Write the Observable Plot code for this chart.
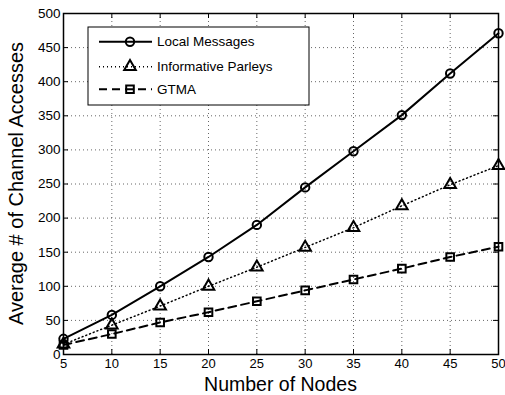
<!DOCTYPE html>
<html><head><meta charset="utf-8">
<script src="https://cdn.jsdelivr.net/npm/d3@7"></script>
<script src="https://cdn.jsdelivr.net/npm/@observablehq/plot@0.6"></script>
<style>
body{margin:0;background:#fff;}
#wrap{position:relative;width:505px;height:395px;font-family:"Liberation Sans",Arial,sans-serif;}
</style></head>
<body><div id="wrap"></div>
<script>
const nodes = [5,10,15,20,25,30,35,40,45,50];
const localMessages = [23,58,100,143,190,245,298,351,412,471];
const informativeParleys = [15,43,71,100,128,157,186,218,249,277];
const gtma = [14,30,47,62,78,94,110,126,143,158];
const xTicks = [5,10,15,20,25,30,35,40,45,50];
const yTicks = [0,50,100,150,200,250,300,350,400,450,500];
const seriesNames = ["Local Messages","Informative Parleys","GTMA"];
const xTitle = "Number of Nodes";
const yTitle = "Average # of Channel Accesses";

const styles = {
  "Local Messages": {dash: null, sw: 2, symbol: "circle", r: 4.2},
  "Informative Parleys": {dash: "1,3", sw: 1.5, symbol: "triangle", r: 4.3},
  "GTMA": {dash: "8,5", sw: 2, symbol: "square", r: 4.3}
};
const seriesVals = [localMessages, informativeParleys, gtma];
const data = seriesNames.map((name,i)=>nodes.map((x,j)=>({x, y: seriesVals[i][j], name})));

const W=505,H=395, mL=63, mR=7, mT=13, mB=41;
const tick = 5;
const FONT = '"Liberation Sans",Arial,sans-serif';
const marks = [
  Plot.gridX(xTicks, {stroke:"#000", strokeOpacity:0.6, strokeDasharray:"1,3", strokeWidth:1}),
  Plot.gridY(yTicks, {stroke:"#000", strokeOpacity:0.6, strokeDasharray:"1,3", strokeWidth:1}),
  Plot.tickX(xTicks, {x:d=>d, insetTop: H-mT-mB-tick, stroke:"#000"}),
  Plot.tickX(xTicks, {x:d=>d, insetBottom: H-mT-mB-tick, stroke:"#000"}),
  Plot.tickY(yTicks, {y:d=>d, insetRight: W-mL-mR-tick, stroke:"#000"}),
  Plot.tickY(yTicks, {y:d=>d, insetLeft: W-mL-mR-tick, stroke:"#000"}),
];
data.forEach(ser=>{
  const s = styles[ser[0].name];
  marks.push(Plot.line(ser,{x:"x",y:"y",stroke:"#000",strokeWidth:s.sw,strokeDasharray:s.dash}));
  marks.push(Plot.dot(ser,{x:"x",y:"y",symbol:()=>s.symbol,r:s.r,stroke:"#000",strokeWidth:2,fill:"none"}));
});
marks.push(Plot.frame({stroke:"#000", strokeWidth:1.5}));
marks.push(Plot.axisX(xTicks,{tickSize:0, tickPadding:4, fontSize:13, label:null}));
marks.push(Plot.axisY(yTicks,{tickSize:0, tickPadding:3, fontSize:13.5, label:null}));

const chart = Plot.plot({
  width: W, height: H,
  marginLeft: mL, marginRight: mR, marginTop: mT, marginBottom: mB,
  x: {domain:[5,50], label:null},
  y: {domain:[0,500], label:null},
  style: {fontFamily:FONT, fontSize:"13px", color:"#000", background:"#fff"},
  symbol: {type:"identity"},
  marks
});
document.getElementById("wrap").appendChild(chart);

// Overlay: axis titles and legend
const lg = d3.select("#wrap").append("svg")
  .attr("width",W).attr("height",H)
  .style("position","absolute").style("left","0").style("top","0").style("pointer-events","none");
lg.append("text").attr("x",(mL+W-mR)/2).attr("y",390.5).attr("text-anchor","middle")
  .attr("font-family",FONT).attr("font-size","19.5px").text(xTitle);
lg.append("text").attr("transform",`translate(23,${(mT+H-mB)/2}) rotate(-90)`).attr("text-anchor","middle")
  .attr("font-family",FONT).attr("font-size","20px").text(yTitle);

const lx=88, ly=27, lw=221, lh=78;
lg.append("rect").attr("x",lx).attr("y",ly).attr("width",lw).attr("height",lh).attr("fill","#fff").attr("stroke","#000").attr("stroke-width",1);
const rowY=[14.7,39.7,62.3];
seriesNames.forEach((name,i)=>{
  const s = styles[name];
  const yy = ly+rowY[i];
  lg.append("line").attr("x1",lx+11).attr("x2",lx+64).attr("y1",yy).attr("y2",yy)
    .attr("stroke","#000").attr("stroke-width",s.sw).attr("stroke-dasharray",s.dash);
  const sym = d3.symbol().type(s.symbol==="circle"?d3.symbolCircle:s.symbol==="triangle"?d3.symbolTriangle:d3.symbolSquare)
    .size(Math.PI*s.r*s.r);
  lg.append("path").attr("d",sym()).attr("transform",`translate(${lx+42},${yy})`)
    .attr("fill","none").attr("stroke","#000").attr("stroke-width",2);
  lg.append("text").attr("x",lx+69).attr("y",yy).attr("dy","0.35em").attr("font-size","13.5px")
    .attr("font-family",FONT).text(name);
});
</script></body></html>
